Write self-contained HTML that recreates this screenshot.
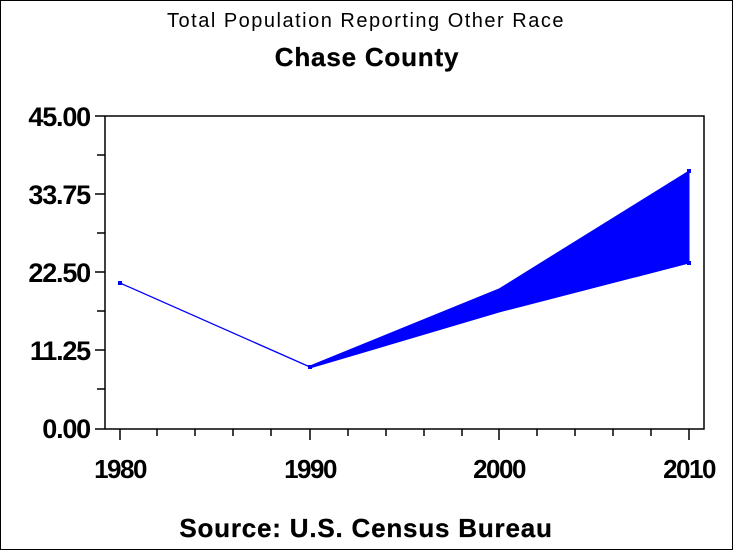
<!DOCTYPE html>
<html><head><style>body{margin:0;background:#fff}svg{display:block}</style></head><body>
<svg width="733" height="550" xmlns="http://www.w3.org/2000/svg" font-family="Liberation Sans, Arial, sans-serif">
<rect x="0.5" y="0.5" width="732" height="549" fill="#fff" stroke="#000"/>
<text x="366" y="27" text-anchor="middle" font-size="20" letter-spacing="1.5">Total Population Reporting Other Race</text>
<text x="367" y="66" text-anchor="middle" font-size="26" font-weight="600" letter-spacing="0.8" stroke="#000" stroke-width="0.3">Chase County</text>
<text x="366" y="537" text-anchor="middle" font-size="26" font-weight="600" letter-spacing="0.8" stroke="#000" stroke-width="0.3">Source: U.S. Census Bureau</text>
<g stroke="#000" stroke-width="1.5" fill="none">
<path d="M95 116H704V429H95M105 116V429"/>
<path d="M95 194H105M95 272H105M95 350H105M97 155H105M97 233H105M97 311H105M97 389H105"/>
<path d="M120 429V440M310 429V440M499 429V440M689 429V440"/>
<path d="M157 429V436M195 429V436M233 429V436M271 429V436M348 429V436M386 429V436M424 429V436M462 429V436M537 429V436M575 429V436M613 429V436M651 429V436"/>
</g>
<g font-size="27" font-weight="bold" text-anchor="end" letter-spacing="-1.2">
<text x="90" y="126">45.00</text>
<text x="90" y="204">33.75</text>
<text x="90" y="282">22.50</text>
<text x="90" y="360">11.25</text>
<text x="90" y="438">0.00</text>
</g>
<g font-size="26" font-weight="bold" text-anchor="middle" letter-spacing="-1.5">
<text x="120" y="478">1980</text>
<text x="310" y="478">1990</text>
<text x="499" y="478">2000</text>
<text x="689" y="478">2010</text>
</g>
<polyline points="120,283 310,367" stroke="#00f" stroke-width="1.3" fill="none"/>
<polygon points="310,366 499,289 689,171 689,263 499,312 310,368" fill="#00f" stroke="#00f" stroke-width="1"/>
<g fill="#00f"><rect x="118" y="281" width="4" height="4"/><rect x="308" y="365" width="4" height="4"/><rect x="687" y="169" width="4" height="4"/><rect x="687" y="261" width="4" height="4"/></g>
</svg>
</body></html>
